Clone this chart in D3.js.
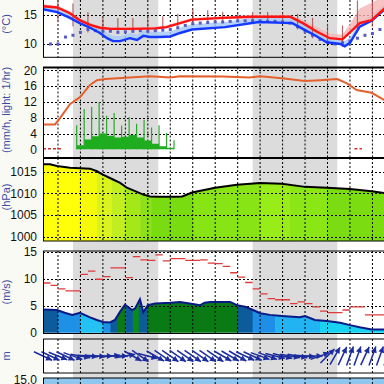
<!DOCTYPE html>
<html><head><meta charset="utf-8">
<script src="https://cdn.jsdelivr.net/npm/d3@7"></script>
<style>body{margin:0;background:#fafaf4;} svg{display:block;}</style>
</head><body>
<svg id="c" width="384" height="384"></svg>
<script>
// ---------- data ----------
const gridHours = [2,5,8,11,14,17,20,23,26,29,32,35,38,41,44];
const nightBands = [[4,15.4],[28,39.3]];

// panel 1: temperature
const tempTicks = [10,15];
const tempHours = [0,1.9,3.6,4.9,6.3,7.6,9,12,15,16.5,18.3,19.9,24,28,33,34.7,36.6,38.3,40,41,42.3,43.9,46];
const tempValues = [16.5,16.3,15.3,14.1,13.3,12.8,12.6,12.6,12.7,12.9,13.6,14.2,14.5,14.7,14.7,13.6,12.1,11.0,10.8,12.0,13.6,14.1,16.6];
const tempSpread = [0.3,0.3,0.3,0.3,0.3,0.3,0.3,0.3,0.3,0.3,0.3,0.3,0.3,0.3,0.3,0.6,0.8,0.8,0.8,1.5,2.5,3.0,2.0];
const blueHours = [0,1.9,3.6,4.9,6.3,7.6,8.55,9.35,10.3,11.6,12.55,13.4,14.3,15.6,17,18.3,19.9,24.3,28.8,33.3,35,36.3,37.9,39.7,40.3,41,42.3,43.9,46];
const blueValues = [16.0,15.5,14.5,13.6,12.8,11.9,11.0,10.5,10.5,11.0,10.7,11.4,11.2,11.2,11.3,11.9,12.5,12.9,13.8,13.6,12.4,11.5,10.3,10.0,9.6,10.2,13.0,14.0,16.4];
const barHours = [2,4,6,8,10,12,14,16,18,20,22,24,26,28,30,32,34,36,38,40,42,44];
const barLow  = [14.0,13.0,12.0,11.8,11.8,12.0,12.0,12.2,12.8,13.5,13.8,13.8,13.8,13.8,13.8,13.8,12.5,11.0,10.0,9.5,12.0,13.0];
const barHigh = [17.8,17.0,15.5,14.5,14.5,14.5,14.5,14.8,15.2,16.0,15.8,15.5,15.5,15.5,15.5,15.5,15.2,14.5,13.5,13.2,17.5,17.8];
const dewHours = [1,2,3,4,5,6,7,8,9,10,11,12,13,14,15,16,17,18,19,20,21,22,23,24,25,26,27,28,29,30,31,32,33,34,35,36,37,38,39,40,41,42,43,44,45];
const dewValues = [10.0,10.0,11.2,11.5,12.0,12.5,12.3,12.2,12.2,12.0,12.1,12.2,12.3,12.2,12.3,12.4,12.5,12.8,13.2,13.5,13.6,13.7,13.8,13.8,13.9,14.0,14.0,14.0,14.0,13.9,13.9,13.8,13.6,13.0,12.2,11.5,10.8,10.3,10.0,10.2,10.5,11.0,11.5,11.8,12.5];

// panel 2: precipitation + line
const precTicks = [0,4,8,12,16,20];
const orangeHours = [0,1.6,2.27,3.6,4.94,6.28,7.2,8.3,11.6,14.3,17,18.3,24,27.6,29,31.9,35,37,39.3,40.6,41.9,43.9,46];
const orangeValues = [6.3,6.3,7.9,11.4,13.2,16.3,17.5,17.8,18.2,18.5,18.2,18.5,18.4,18.2,18.5,18.0,17.3,17.5,17.8,16.7,15.0,14.3,12.0];
const precipHours = [4,5,6,7,8,9,10,11,12,13,14,15,16,17,18];
const precipValues = [0,1.0,2.5,3.3,4.0,3.4,3.0,3.2,3.6,3.0,2.2,1.4,0.8,0.4,0];
const spikeHours = [4.5,5.5,6.5,7.5,8.5,9.5,10.5,11.5,12.5,13.5,14.5,15.5,16.5,17.5];
const spikeValues = [6.1,10.2,10.7,12.0,8.5,9.2,6.0,8.2,6.5,7.5,5.5,6.1,4.1,2.3];
const zeroMarks = [[0,2.4],[41.6,42.6]];

// panel 3: pressure
const pressTicks = [1000,1005,1010,1015];
const pressHours = [0,0.93,1.87,3.6,6.28,7.2,8.0,9.35,10.3,11.2,12.3,13.4,14.3,15.6,17.6,18.6,19.9,23,25.9,29,31.9,35,37.9,41,43.9,46];
const pressValues = [1016.7,1016.7,1016.3,1015.9,1015.7,1015.1,1014.3,1013.2,1012.4,1011.3,1010.5,1009.7,1009.3,1009.2,1009.2,1009.3,1010.2,1011.3,1012.0,1012.4,1012.2,1011.5,1011.3,1011.0,1010.5,1010.0];
const pressStripStart = [0,5,7.2,9.2,11,13,14.5,20,29,33,38];
const pressStripEnd   = [5,7.2,9.2,11,13,14.5,20,29,33,38,46];
const pressStripColor = ['#ffff0a','#f6fa0a','#d8f41c','#c0ee20','#a4e818','#8ce214','#78dc10','#88e414','#98ec18','#8ae614','#7cdc12'];

// panel 4: wind speed
const windTicks = [0,5,10,15];
const windHours = [0,1.87,2.9,3.9,4.94,6.28,7.2,8,8.95,9.6,10.3,10.95,11.9,12.3,12.95,13.4,14,15,17,18.3,19.6,21,21.6,22.3,25,25.9,27,27.9,29,30.3,31.9,34.3,35,36.3,37.9,39.7,41,42.3,43.9,46];
const windValues = [4.3,4.2,3.7,3.3,3.7,2.85,2.35,2.0,1.9,2.35,3.9,5.2,4.2,4.5,6.2,3.8,5.1,5.4,5.55,5.7,5.4,5.1,5.55,5.7,5.7,5.1,4.8,4.3,3.6,3.3,3.1,2.85,3.1,2.35,2.15,1.85,1.4,1.0,0.6,0.6];
const windStripStart = [0,2,5,8,9,10,11,12,12.8,14,26,28,31,37];
const windStripEnd   = [2,5,8,9,10,11,12,12.8,14,26,28,31,37,46];
const windStripColor = ['#0c5c9c','#1e90e6','#24c2f4','#1e90e6','#0c5c9c','#0a7a14','#0c5c9c','#0a8a18','#0c5c9c','#0a7a14','#0c5c9c','#1e8ee6','#22b4f2','#18d2f2'];
const gustValues = [9.2,8.75,8.1,7.75,7.75,10.8,11.4,9.9,10.4,12.0,12.0,10.2,14.1,13.5,13.4,14.4,13.3,13.7,13.7,13.4,13.4,13.5,12.9,12.8,12.3,11.1,10.3,9.3,8.1,7.2,6.3,6.1,6.1,5.4,5.7,5.4,4.8,4.0,3.7,3.7,4.2,4.8,4.8,3.3,3.3,3.3];

// panel 5: wind direction (screen angle arrow points to, degrees)
const arrowDir = [25,25,22,25,20,10,5,5,0,-5,0,-10,30,35,15,30,35,35,35,35,35,35,35,35,30,30,30,25,25,20,20,15,15,10,10,5,0,-20,-45,-60,-65,-70,-70,-65,-70,-70,-70];

const bottomTick = ['15.0'];

// ---------- layout ----------
const W = 384, H = 384;
const svg = d3.select('#c');
const x = d3.scaleLinear().domain([0,46]).range([43, 43 + 46*7.487]);
const P = [
  {top:-20, bottom:57.3},
  {top:67.5, bottom:158},
  {top:158, bottom:241},
  {top:251, bottom:333.5},
  {top:339, bottom:373},
  {top:378, bottom:400}
];
const y1 = d3.scaleLinear().domain([10,15]).range([44,15]);
const y2 = d3.scaleLinear().domain([0,20]).range([149.3,70.3]);
const y3 = d3.scaleLinear().domain([1000,1015]).range([236.7,171.7]);
const y4 = d3.scaleLinear().domain([0,15]).range([332.7,251.7]);

svg.append('rect').attr('width',W).attr('height',H).attr('fill','#fafaf4');
svg.append('rect').attr('x',43).attr('y',0).attr('width',W-43).attr('height',H).attr('fill','#ffffff');
svg.selectAll('.night').data(nightBands).join('rect')
  .attr('x',d=>x(d[0])).attr('width',d=>x(d[1])-x(d[0]))
  .attr('y',0).attr('height',H).attr('fill','#dcdcdc');

const defs = svg.append('defs');
P.forEach((p,i)=>{
  defs.append('clipPath').attr('id','clip'+i).append('rect')
    .attr('x',43).attr('y',p.top).attr('width',W).attr('height',p.bottom-p.top);
});
function panel(i){ return svg.append('g').attr('clip-path','url(#clip'+i+')'); }

const zip = (a,b)=>a.map((v,i)=>[v,b[i]]);

// ---------- panel 3 fill ----------
{
  const g = panel(2);
  const pts = zip(pressHours,pressValues);
  const area = d3.area().x(d=>x(d[0])).y0(P[2].bottom).y1(d=>y3(d[1]));
  defs.append('clipPath').attr('id','pressClip').append('path').attr('d',area(pts));
  const gg = g.append('g').attr('clip-path','url(#pressClip)');
  pressStripStart.forEach((s,i)=>{
    gg.append('rect').attr('x',x(s)).attr('width',x(pressStripEnd[i])-x(s)+0.5)
      .attr('y',P[2].top).attr('height',P[2].bottom-P[2].top).attr('fill',pressStripColor[i]);
  });
}
// ---------- panel 4 fill ----------
{
  const g = panel(3);
  const pts = zip(windHours,windValues);
  const area = d3.area().x(d=>x(d[0])).y0(y4(0)).y1(d=>y4(d[1]));
  defs.append('clipPath').attr('id','windClip').append('path').attr('d',area(pts));
  const gg = g.append('g').attr('clip-path','url(#windClip)');
  windStripStart.forEach((s,i)=>{
    gg.append('rect').attr('x',x(s)).attr('width',x(windStripEnd[i])-x(s)+0.5)
      .attr('y',P[3].top).attr('height',P[3].bottom-P[3].top).attr('fill',windStripColor[i]);
  });
}
// ---------- panel 6 fill ----------
svg.append('rect').attr('x',43).attr('y',P[5].top).attr('width',W).attr('height',20).attr('fill','#8ec6ee');

// ---------- grid ----------
P.forEach((p,i)=>{
  svg.append('g').selectAll('line').data(gridHours).join('line')
    .attr('x1',d=>x(d)).attr('x2',d=>x(d))
    .attr('y1',Math.max(p.top,0)).attr('y2',Math.min(p.bottom,H))
    .attr('stroke','#000').attr('stroke-width',1).attr('stroke-dasharray','2,2');
});
function hgrid(vals, ys){
  svg.append('g').selectAll('line').data(vals).join('line')
    .attr('x1',43).attr('x2',W).attr('y1',d=>Math.round(ys(d))+0.5).attr('y2',d=>Math.round(ys(d))+0.5)
    .attr('stroke','#000').attr('stroke-width',1).attr('stroke-dasharray','2,2');
}
hgrid(tempTicks,y1);
hgrid(precTicks.filter(v=>v>0),y2);
hgrid(pressTicks,y3);
hgrid(windTicks.filter(v=>v>0),y4);

// ---------- panel 1 ----------
{
  const g = panel(0);
  const line = d3.line().x(d=>x(d[0])).y(d=>y1(d[1]));
  const bluePts = zip(blueHours,blueValues);
  g.append('path').attr('d',d3.area().x(d=>x(d[0])).y0(d=>y1(d[1])).y1(d=>y1(d[1]+0.9))(bluePts))
    .attr('fill','#a8cbf6').attr('opacity',0.85);
  const redPts = tempHours.map((t,i)=>[t,tempValues[i],tempSpread[i]]);
  g.append('path').attr('d',d3.area().x(d=>x(d[0])).y0(d=>y1(d[1]-0.2)).y1(d=>y1(d[1]+d[2]))(redPts))
    .attr('fill','#f6b4b4').attr('opacity',0.8);
  g.selectAll('.bar').data(barHours).join('line')
    .attr('x1',d=>x(d)).attr('x2',d=>x(d))
    .attr('y1',(d,i)=>y1(barLow[i])).attr('y2',(d,i)=>y1(barHigh[i]))
    .attr('stroke','#a03c3c').attr('stroke-width',1.2).attr('opacity',0.75);
  g.selectAll('.dew').data(dewHours).join('rect')
    .attr('x',(d)=>x(d)-1.5).attr('y',(d,i)=>y1(dewValues[i])-1.5)
    .attr('width',3).attr('height',3).attr('fill','#5a5ac4');
  g.append('path').attr('d',line(bluePts)).attr('fill','none').attr('stroke','#1438ff').attr('stroke-width',2.4);
  g.append('path').attr('d',line(zip(tempHours,tempValues))).attr('fill','none').attr('stroke','#ff1414').attr('stroke-width',2.4);
}
// ---------- panel 2 ----------
{
  const g = panel(1);
  g.append('path').attr('d',d3.area().curve(d3.curveStep).x(d=>x(d[0])).y0(y2(0)).y1(d=>y2(d[1]))(zip(precipHours,precipValues)))
    .attr('fill','#1cae1c');
  g.selectAll('.sp').data(spikeHours).join('line')
    .attr('x1',d=>x(d)).attr('x2',d=>x(d)).attr('y1',y2(0)).attr('y2',(d,i)=>y2(spikeValues[i]))
    .attr('stroke','#2aa82a').attr('stroke-width',1.2);
  g.selectAll('.zm').data(zeroMarks).join('line')
    .attr('x1',d=>x(d[0])).attr('x2',d=>x(d[1])).attr('y1',y2(0)-0.5).attr('y2',y2(0)-0.5)
    .attr('stroke','#c83030').attr('stroke-width',1.5).attr('stroke-dasharray','3,2');
  g.append('path').attr('d',d3.line().x(d=>x(d[0])).y(d=>y2(d[1]))(zip(orangeHours,orangeValues)))
    .attr('fill','none').attr('stroke','#e4602e').attr('stroke-width',2);
}
// ---------- panel 3 line ----------
{
  const g = panel(2);
  g.append('path').attr('d',d3.line().x(d=>x(d[0])).y(d=>y3(d[1]))(zip(pressHours,pressValues)))
    .attr('fill','none').attr('stroke','#000').attr('stroke-width',2);
}
// ---------- panel 4 lines ----------
{
  const g = panel(3);
  g.selectAll('.gust').data(gustValues).join('line')
    .attr('x1',(d,i)=>x(i)).attr('x2',(d,i)=>x(i+1))
    .attr('y1',d=>y4(d)).attr('y2',d=>y4(d))
    .attr('stroke','#e03a3a').attr('stroke-width',1.3);
  g.append('path').attr('d',d3.line().x(d=>x(d[0])).y(d=>y4(d[1]))(zip(windHours,windValues)))
    .attr('fill','none').attr('stroke','#0a1a84').attr('stroke-width',2);
}
// ---------- panel 5 arrows ----------
{
  const g = svg.append('g');
  const L = 20, cy = 356;
  arrowDir.forEach((a,i)=>{
    const r = a*Math.PI/180, cx = x(i);
    const dx = Math.cos(r)*L/2, dy = Math.sin(r)*L/2;
    const tx = cx+dx, ty = cy+dy;
    g.append('line').attr('x1',cx-dx).attr('y1',cy-dy).attr('x2',tx).attr('y2',ty)
      .attr('stroke','#1c2c9c').attr('stroke-width',1.5);
    const hl = 6, hw = 3;
    const bx = tx-Math.cos(r)*hl, by = ty-Math.sin(r)*hl;
    const px = -Math.sin(r)*hw, py = Math.cos(r)*hw;
    g.append('path').attr('d',`M${tx},${ty}L${bx+px},${by+py}L${bx-px},${by-py}Z`).attr('fill','#1c2c9c');
  });
}

// ---------- borders ----------
const bord = svg.append('g').attr('stroke','#000').attr('fill','none');
P.forEach((p,i)=>{
  const tw = (i===1||i===2)?2:1;
  if(p.top>=0) bord.append('line').attr('x1',43).attr('x2',W).attr('y1',p.top).attr('y2',p.top).attr('stroke-width',tw);
  bord.append('line').attr('x1',43.5).attr('x2',43.5).attr('y1',Math.max(p.top,0)).attr('y2',Math.min(p.bottom,H)).attr('stroke-width',1);
  if(i!==1 && i!==5) bord.append('line').attr('x1',43).attr('x2',W).attr('y1',p.bottom).attr('y2',p.bottom).attr('stroke-width',1);
});

// ---------- tick labels ----------
const lab = svg.append('g').attr('font-family','Liberation Sans, Arial, sans-serif').attr('font-size',12).attr('fill','#111').attr('text-anchor','end');
function ticks(vals, ys){ vals.forEach(v=>lab.append('text').attr('x',37).attr('y',ys(v)).attr('dy','0.36em').text(v)); }
ticks(tempTicks,y1); ticks(precTicks,y2); ticks(pressTicks,y3); ticks(windTicks,y4);
lab.append('text').attr('x',37).attr('y',384).text(bottomTick[0]);

// ---------- axis titles (partly outside the left edge, as in the original) ----------
const tl = svg.append('g').attr('font-family','Liberation Sans, Arial, sans-serif').attr('font-size',11).attr('fill','#3a4ca4').attr('text-anchor','middle');
[['(°C)',24],['(mm/h, light: 1/hr)',110],['(hPa)',197],['(m/s)',292],['m',356]].forEach(d=>{
  tl.append('text').attr('transform',`translate(10,${d[1]}) rotate(-90)`).text(d[0]);
});
</script>
</body></html>
